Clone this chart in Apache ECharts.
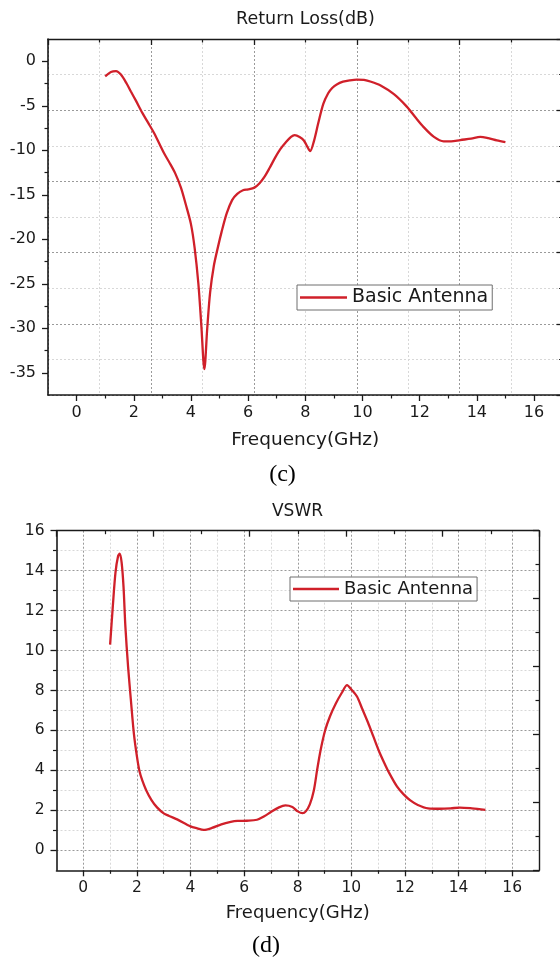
<!DOCTYPE html>
<html>
<head>
<meta charset="utf-8">
<script src="https://cdn.jsdelivr.net/npm/echarts@6/dist/echarts.min.js"></script>
<style>html,body{margin:0;padding:0;background:#fff}#c{width:560px;height:960px}</style>
</head>
<body>
<div id="c"></div>
<script>
// ---- data ----
const freqRL = [1.0,1.2,1.38,1.55,1.75,1.9,2.07,2.3,2.5,2.7,2.9,3.07,3.25,3.45,3.65,3.82,4.0,4.13,4.26,4.36,4.47,4.57,4.67,4.8,4.95,5.07,5.25,5.44,5.62,5.82,6.0,6.22,6.4,6.57,6.75,6.95,7.12,7.32,7.5,7.63,7.8,7.95,8.07,8.17,8.3,8.45,8.63,8.8,8.94,9.1,9.32,9.55,9.8,10.05,10.3,10.62,11.1,11.55,11.85,12.14,12.5,12.84,13.1,13.42,13.8,14.12,14.4,14.7,15.0];
const returnLoss = [-1.7,-1.2,-1.1,-1.5,-2.5,-3.4,-4.4,-5.8,-6.9,-8.0,-9.3,-10.4,-11.4,-12.6,-14.2,-16.1,-18.3,-21.0,-25.0,-29.5,-34.6,-30.0,-26.0,-23.0,-20.8,-19.2,-17.1,-15.6,-14.9,-14.5,-14.4,-14.2,-13.7,-13.0,-12.0,-10.8,-9.9,-9.1,-8.5,-8.3,-8.5,-8.9,-9.6,-10.1,-9.0,-7.0,-4.8,-3.6,-3.0,-2.6,-2.3,-2.15,-2.06,-2.1,-2.3,-2.7,-3.7,-5.1,-6.3,-7.4,-8.5,-9.0,-9.0,-8.85,-8.7,-8.5,-8.65,-8.9,-9.1];

const freqVSWR = [1.0,1.1,1.2,1.3,1.36,1.43,1.5,1.57,1.67,1.77,1.89,2.0,2.09,2.2,2.35,2.55,2.75,3.0,3.2,3.5,4.0,4.25,4.49,4.8,5.15,5.5,5.75,6.1,6.48,6.75,7.0,7.3,7.54,7.8,8.0,8.18,8.3,8.45,8.6,8.72,8.85,9.02,9.2,9.42,9.65,9.84,10.0,10.21,10.4,10.62,10.82,11.02,11.22,11.42,11.7,11.95,12.2,12.48,12.86,13.3,13.7,14.05,14.5,15.0];
const vswr = [10.3,12.2,13.9,14.75,14.85,14.4,13.2,11.2,9.2,7.6,5.8,4.7,4.0,3.5,3.0,2.5,2.15,1.85,1.72,1.55,1.2,1.1,1.02,1.12,1.3,1.42,1.47,1.48,1.53,1.7,1.92,2.15,2.25,2.17,1.95,1.86,1.95,2.3,3.0,4.0,5.0,6.0,6.7,7.35,7.9,8.27,8.05,7.7,7.1,6.4,5.7,5.0,4.4,3.85,3.2,2.8,2.5,2.27,2.1,2.08,2.1,2.14,2.1,2.03];

const xTickValues = [0,2,4,6,8,10,12,14,16];
const xMinorTickValues = [1,3,5,7,9,11,13,15];
const rlTickValues = [-35,-30,-25,-20,-15,-10,-5,0];
const rlMinorTickValues = [-32.5,-27.5,-22.5,-17.5,-12.5,-7.5,-2.5];
const vswrTickValues = [0,2,4,6,8,10,12,14,16];
const vswrMinorTickValues = [1,3,5,7,9,11,13,15];
const titles = ['Return Loss(dB)', 'VSWR'];
const xName = 'Frequency(GHz)';
const captions = ['(c)', '(d)'];
const seriesName = 'Basic Antenna';

// ---- styling helpers ----
const FONT = 'DejaVu Sans';
const INK = '#1a1a1a';
const RED = '#d0202a';
const darkGrid = {color: '#9a9a9a', width: 1, type: [2, 2]};
const lightGrid = {color: '#d8d8d8', width: 1, type: [2, 2]};

function mainAxis(kind, gi, pos, min, max, ticks, fs, extra) {
  const a = {
    type: 'value', gridIndex: gi, position: pos, min: min, max: max,
    axisLine: {show: true, onZero: false, lineStyle: {color: INK, width: 1.6}},
    axisTick: {show: true, customValues: ticks, length: 6, lineStyle: {color: INK, width: 1.3}},
    axisLabel: {show: true, customValues: ticks, color: INK, fontFamily: FONT, fontSize: fs, margin: kind === 'x' ? 10 : 12},
    splitLine: {show: false}
  };
  return Object.assign(a, extra || {});
}
function minorAxis(gi, pos, min, max, ticks, split) {
  return {
    type: 'value', gridIndex: gi, position: pos, min: min, max: max,
    axisLine: {show: false, onZero: false},
    axisTick: {show: true, customValues: ticks, length: 3.5, lineStyle: {color: INK, width: 1.2}},
    axisLabel: {show: false, customValues: ticks},
    splitLine: split ? {show: true, lineStyle: split} : {show: false}
  };
}
function frameAxis(gi, pos, withGrid) {
  return {
    type: 'value', gridIndex: gi, position: pos, min: 0, max: 10, interval: 2,
    axisLine: {show: true, onZero: false, lineStyle: {color: INK, width: 1.4}},
    axisTick: {show: true, inside: true, length: 6, lineStyle: {color: INK, width: 1.3}},
    minorTick: {show: true, splitNumber: 2, length: 3.5, lineStyle: {color: INK, width: 1.2}},
    axisLabel: {show: false},
    splitLine: withGrid ? {show: true, lineStyle: darkGrid} : {show: false},
    minorSplitLine: withGrid ? {show: true, lineStyle: lightGrid} : {show: false}
  };
}

const chart = echarts.init(document.getElementById('c'), null, {renderer: 'canvas'});

const option = {
  backgroundColor: '#ffffff',
  animation: false,
  grid: [
    {left: 48, top: 39, width: 514.6, height: 356, outerBoundsMode: 'none', containLabel: false},
    {left: 56.5, top: 530.7, width: 482.5, height: 339.6, outerBoundsMode: 'none', containLabel: false}
  ],
  xAxis: [
    mainAxis('x', 0, 'bottom', -1, 17, xTickValues, 16, {
      name: xName, nameLocation: 'middle', nameGap: 36,
      nameTextStyle: {color: INK, fontFamily: FONT, fontSize: 18.5}
    }),
    minorAxis(0, 'bottom', -1, 17, xMinorTickValues, null),
    frameAxis(0, 'top', true),
    mainAxis('x', 1, 'bottom', -1, 17, xTickValues, 15.5, {
      name: xName, nameLocation: 'middle', nameGap: 34,
      nameTextStyle: {color: INK, fontFamily: FONT, fontSize: 18},
      splitLine: {show: true, lineStyle: darkGrid}
    }),
    minorAxis(1, 'bottom', -1, 17, xMinorTickValues, lightGrid),
    frameAxis(1, 'top', false)
  ],
  yAxis: [
    mainAxis('y', 0, 'left', -37.5, 2.5, rlTickValues, 16),
    minorAxis(0, 'left', -37.5, 2.5, rlMinorTickValues, null),
    frameAxis(0, 'right', true),
    mainAxis('y', 1, 'left', -1, 16, vswrTickValues, 15.5, {
      splitLine: {show: true, lineStyle: darkGrid}
    }),
    minorAxis(1, 'left', -1, 16, vswrMinorTickValues, lightGrid),
    frameAxis(1, 'right', false)
  ],
  legend: [
    {
      data: [seriesName], left: 297, top: 285, icon: 'rect', itemWidth: 47, itemHeight: 2.5, itemGap: 6,
      padding: [3, 4, 3, 3], borderColor: '#6e6e6e', borderWidth: 1, borderRadius: 0,
      backgroundColor: '#ffffff', selectedMode: false,
      textStyle: {color: INK, fontFamily: FONT, fontSize: 19}
    },
    {
      data: [seriesName], left: 290, top: 577, icon: 'rect', itemWidth: 46, itemHeight: 2.5, itemGap: 6,
      padding: [3, 4, 3, 3], borderColor: '#6e6e6e', borderWidth: 1, borderRadius: 0,
      backgroundColor: '#ffffff', selectedMode: false,
      textStyle: {color: INK, fontFamily: FONT, fontSize: 18}
    }
  ],
  graphic: [
    {type: 'text', silent: true, style: {text: titles[0], x: 305.5, y: 19, align: 'center', verticalAlign: 'middle', fill: INK, font: '17.5px "DejaVu Sans"'}},
    {type: 'text', silent: true, style: {text: titles[1], x: 297.5, y: 512, align: 'center', verticalAlign: 'middle', fill: INK, font: '17px "DejaVu Sans"'}},
    {type: 'text', silent: true, style: {text: captions[0], x: 282.5, y: 475, align: 'center', verticalAlign: 'middle', fill: '#000', font: '24px "Liberation Serif"'}},
    {type: 'text', silent: true, style: {text: captions[1], x: 266, y: 946, align: 'center', verticalAlign: 'middle', fill: '#000', font: '24px "Liberation Serif"'}}
  ],
  series: [
    {
      name: seriesName, type: 'line', xAxisIndex: 0, yAxisIndex: 0,
      data: freqRL.map((f, i) => [f, returnLoss[i]]),
      symbol: 'none', showSymbol: false, smooth: 0.3, lineStyle: {color: RED, width: 2.3}, itemStyle: {color: RED}, z: 5
    },
    {
      name: seriesName, type: 'line', xAxisIndex: 3, yAxisIndex: 3,
      data: freqVSWR.map((f, i) => [f, vswr[i]]),
      symbol: 'none', showSymbol: false, smooth: 0.3, lineStyle: {color: RED, width: 2.3}, itemStyle: {color: RED}, z: 5
    }
  ]
};
chart.setOption(option);
</script>
</body>
</html>
